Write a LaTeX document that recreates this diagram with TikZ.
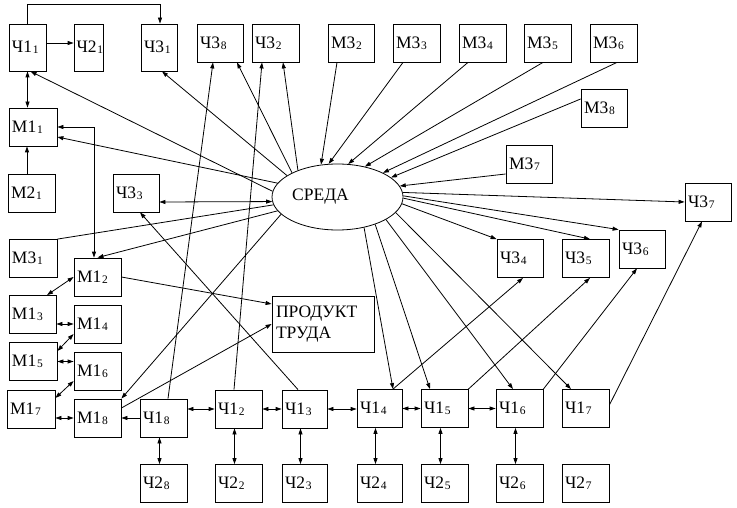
\documentclass[tikz,border=0pt]{standalone}
\usepackage{fontspec}
\setmainfont{Liberation Serif}
\usetikzlibrary{arrows.meta,shapes.geometric}
\newcommand{\ix}[1]{\kern0.8pt\raisebox{-1pt}{\fontsize{11.5pt}{11.5pt}\selectfont #1}}
\begin{document}
\begin{tikzpicture}[x=1pt,y=-1pt, line width=0.8pt, >={Triangle[length=6pt,width=4pt]},
  txt/.style={font=\fontsize{17.5pt}{21pt}\selectfont},
  bx/.style={draw, txt, minimum height=38pt, inner xsep=3pt, inner ysep=0pt, text width=41pt, align=left},
  tall/.style={minimum height=47pt}]
\path[use as bounding box, fill=white] (0,0) rectangle (737,508);

% top row
\node[bx,tall,text width=31pt] (c11) at (27.5,47.5) {\mbox{Ч1\ix{1}}};
\node[bx,tall,text width=24pt,inner xsep=2.5pt] (c21) at (88.5,47.5) {\mbox{Ч2\ix{1}}};
\node[bx,tall,text width=30pt] (c31) at (159,47.5) {\mbox{Ч3\ix{1}}};
\node[bx,text width=40pt] (c38) at (220,43) {Ч3\ix{8}};
\node[bx] (c32) at (275.5,43) {Ч3\ix{2}};
\node[bx,text width=40pt] (m32) at (351,43) {М3\ix{2}};
\node[bx] (m33) at (416.5,43) {М3\ix{3}};
\node[bx] (m34) at (482.5,43) {М3\ix{4}};
\node[bx] (m35) at (547.5,43) {М3\ix{5}};
\node[bx] (m36) at (613.5,43) {М3\ix{6}};
\node[bx,text width=40pt] (m38) at (604,108.5) {М3\ix{8}};
\node[bx,text width=40pt] (m37) at (529,164.5) {М3\ix{7}};
\node[bx,text width=40pt] (c37) at (708,202) {Ч3\ix{7}};
\node[bx,text width=40pt] (c36) at (642,249) {Ч3\ix{6}};
\node[bx,text width=40pt] (c34) at (520,258.5) {Ч3\ix{4}};
\node[bx] (c35) at (585.5,258.5) {Ч3\ix{5}};

% left column
\node[bx,text width=42pt] (m11) at (33,127) {М1\ix{1}};
\node[bx] (m21) at (31.5,193) {М2\ix{1}};
\node[bx,text width=40pt] (c33) at (136,193) {Ч3\ix{3}};
\node[bx,text width=42pt] (m31) at (33,258.5) {М3\ix{1}};
\node[bx] (m12) at (97.5,277) {М1\ix{2}};
\node[bx] (m13) at (32.5,314.5) {М1\ix{3}};
\node[bx] (m14) at (97.5,324) {М1\ix{4}};
\node[bx,text width=42pt] (m15) at (33,361.5) {М1\ix{5}};
\node[bx] (m16) at (97.5,371) {М1\ix{6}};
\node[bx,text width=42pt] (m17) at (31,409) {М1\ix{7}};
\node[bx] (m18) at (97.5,418) {М1\ix{8}};

% Ch1 row
\node[bx] (c18) at (163.5,418) {Ч1\ix{8}};
\node[bx] (c12) at (238.5,409) {Ч1\ix{2}};
\node[bx,text width=39pt] (c13) at (304.5,409) {Ч1\ix{3}};
\node[bx,text width=39pt] (c14) at (379.5,408.5) {Ч1\ix{4}};
\node[bx] (c15) at (444.5,408.5) {Ч1\ix{5}};
\node[bx] (c16) at (519.5,408.5) {Ч1\ix{6}};
\node[bx] (c17) at (585.5,408.5) {Ч1\ix{7}};

% Ch2 row
\node[bx] (d28) at (163.5,483.5) {Ч2\ix{8}};
\node[bx] (d22) at (238.5,483.5) {Ч2\ix{2}};
\node[bx,text width=39pt] (d23) at (304.5,483.5) {Ч2\ix{3}};
\node[bx,text width=39pt] (d24) at (379.5,483.5) {Ч2\ix{4}};
\node[bx] (d25) at (444.5,483.5) {Ч2\ix{5}};
\node[bx] (d26) at (519.5,483.5) {Ч2\ix{6}};
\node[bx] (d27) at (585.5,483.5) {Ч2\ix{7}};

% centre
\node[draw, ellipse, txt, minimum width=131pt, minimum height=66pt, inner sep=0pt] (sreda) at (337.5,197) {\hspace*{-17pt}СРЕДА\hspace*{17pt}};
\node[draw, txt, minimum width=102pt, minimum height=56pt, inner xsep=4pt, text width=94pt, align=left] (prod) at (323,324) {ПРОДУКТ\\ТРУДА};

% top-left connectors
\draw[->] ([yshift=4.5pt]c11.east) -- ([yshift=4.5pt]c21.west);
\draw[->] (c11.north) -- ++(0,-19) -| ([xshift=1pt]c31.north);
\draw[<->] (c11.south) -- (c11.south |- m11.north);
\draw[->] ([xshift=-4.5pt]m21.north) -- ([xshift=-4.5pt]m21.north |- m11.south);
\draw[<->] (m11.east) -| ([xshift=-3.5pt]m12.north);
\draw[->] (sreda.167.9) -- ([yshift=-10pt]m11.east);
\draw[->] (sreda.175.8) -- ([xshift=3pt]c11.south);
\draw[->] (sreda.157.3) -- ([xshift=3pt]c31.south);
\draw[->] (sreda.152.2) -- ([xshift=17pt]c38.south);
\draw[->] (sreda.146.3) -- ([xshift=7.5pt]c32.south);
\draw[->] ([xshift=4.5pt]c18.north) -- ([xshift=-7pt]c38.south);
\draw[->] ([xshift=-4.5pt]c12.north) -- ([xshift=-13.5pt]c32.south);

% M3 into environment
\draw[->] ([xshift=-14pt]m32.south) -- (sreda.117.2);
\draw[->] ([xshift=-13.5pt]m33.south) -- (sreda.105.6);
\draw[->] ([xshift=-14.5pt]m34.south) -- (sreda.72.3);
\draw[->] ([xshift=-4.5pt]m35.south) -- (sreda.48.2);
\draw[->] ([xshift=3.5pt]m36.south) -- (sreda.28);
\draw[->] ([yshift=9.5pt]m38.west) -- (sreda.20);
\draw[->] ([yshift=-9.5pt]m37.west) -- (sreda.10);

% right side
\draw[->] (sreda.4) -- (c37.west);
\draw[->] (sreda.1) -- (c36.north west);
\draw[->] (sreda.-1) -- ([xshift=4.5pt]c35.north);
\draw[->] (sreda.-6) -- (c34.north west);
\draw[->] ([yshift=3.5pt]c17.east) -- ([xshift=-6pt]c37.south);
\draw[->] ([xshift=13.5pt]c14.north) -- ([xshift=3pt]c34.south);
\draw[->] (c15.north east) -- ([xshift=4.5pt]c35.south);
\draw[->] (c16.north east) -- ([xshift=-5pt]c36.south);
\draw[->] (sreda.-49) -- ([xshift=13.5pt]c14.north);
\draw[->] (sreda.-36) -- ([xshift=-14.5pt]c15.north);
\draw[->] (sreda.-25) -- ([xshift=-6.5pt]c16.north);
\draw[->] (sreda.-15.4) -- ([xshift=-14.5pt]c17.north);

% lower left
\draw[->] ([xshift=-6.5pt]c13.north) -- ([xshift=4pt]c33.south);
\draw[<->] ([yshift=-9pt]c33.east) -- (sreda.184);
\draw (m31.north east) -- (sreda.187.5);
\draw[->] (sreda.193) -- (m12.north);
\draw[->] (sreda.197.5) -- (m18.north east);
\draw[->] (m12.east) -- ([yshift=20pt]prod.west);
\draw[->] ([yshift=10pt]m18.east) -- (prod.west);
\draw[<->] (m12.west) -- ([xshift=14.5pt]m13.north);
\draw[<->] (m13.east |- m14.west) -- (m14.west);
\draw[<->] ([yshift=-10pt]m14.west) -- ([yshift=10.5pt]m15.east);
\draw[<->] (m15.east) -- (m15.east -| m16.west);
\draw[<->] ([yshift=-10pt]m16.west) -- ([yshift=11pt]m17.east);
\draw[<->] (m17.east |- m18.west) -- (m18.west);
\draw[->] (c18.west) -- (m18.east);

% Ch1 chain
\draw[<->] (c18.east |- c12.west) -- (c12.west);
\draw[<->] (c12.east) -- (c13.west);
\draw[<->] (c13.east) -- (c13.east -| c14.west);
\draw[<->] (c14.east) -- (c15.west);
\draw[<->] (c15.east) -- (c16.west);
\foreach \a/\b in {c18/d28, c12/d22, c13/d23, c14/d24, c15/d25, c16/d26}
  \draw[<->] ([xshift=-4pt]\a.south) -- ([xshift=-4pt]\b.north);
\end{tikzpicture}
\end{document}
